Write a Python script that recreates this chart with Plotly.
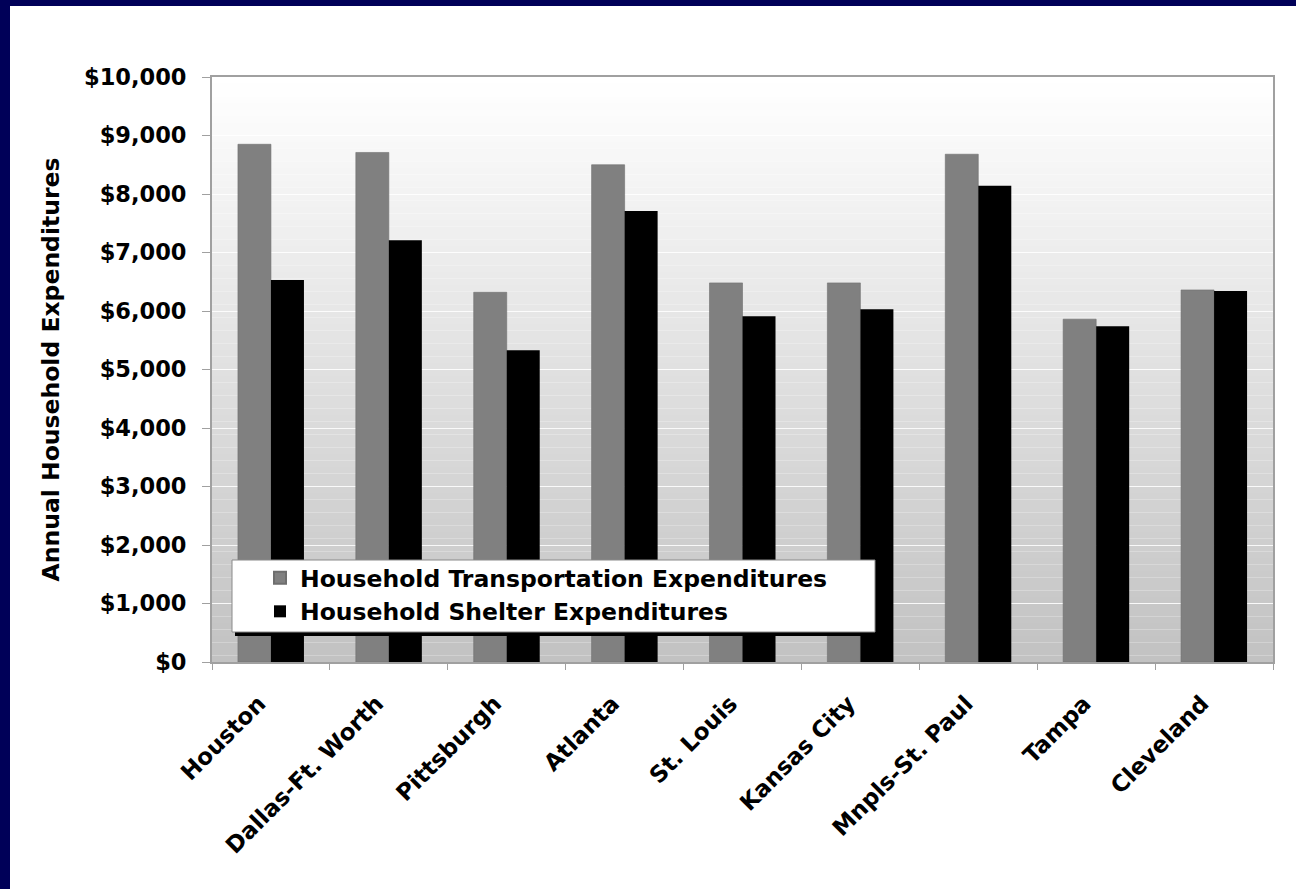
import plotly.graph_objects as go

# Metro areas and annual household spending (US$)
cities = ["Houston", "Dallas-Ft. Worth", "Pittsburgh", "Atlanta", "St. Louis",
          "Kansas City", "Mnpls-St. Paul", "Tampa", "Cleveland"]
transportation = [8850, 8710, 6320, 8500, 6480, 6480, 8680, 5860, 6360]
shelter = [6530, 7210, 5330, 7710, 5910, 6030, 8140, 5740, 6340]

y_ticks = list(range(0, 10001, 1000))
y_tick_text = [f"${v:,}" for v in y_ticks]

FONT = "Verdana, DejaVu Sans, sans-serif"

fig = go.Figure()
fig.add_trace(go.Bar(name="Household Transportation Expenditures", x=cities, y=transportation,
                     marker=dict(color="#808080", line=dict(width=0.6, color="#6e6e6e"))))
fig.add_trace(go.Bar(name="Household Shelter Expenditures", x=cities, y=shelter,
                     marker=dict(color="#000000", line=dict(width=0))))

shapes = []
# vertical gradient behind the plot area (white at top, light gray at bottom)
n = 90
for i in range(n):
    t = i / (n - 1)
    v = int(round(255 - (255 - 194) * t))
    shapes.append(dict(type="rect", xref="x domain", yref="y domain",
                       x0=0, x1=1, y0=1 - (i + 1) / n, y1=1 - i / n,
                       fillcolor=f"rgb({v},{v},{v})", line=dict(width=0), layer="below"))

W, H = 1296, 889
L, R, T, B = 212, 23, 77, 227
pw, ph = W - L - R, H - T - B


def px_x(x):
    return (x - L) / pw


def px_y(y):
    return (H - B - y) / ph


# navy frame strips along the top and left edges of the slide
shapes.append(dict(type="rect", xref="paper", yref="paper",
                   x0=px_x(0), x1=px_x(W), y0=px_y(6), y1=px_y(0),
                   fillcolor="#000058", line=dict(width=0), layer="above"))
shapes.append(dict(type="rect", xref="paper", yref="paper",
                   x0=px_x(0), x1=px_x(10), y0=px_y(H), y1=px_y(0),
                   fillcolor="#000058", line=dict(width=0), layer="above"))

# legend panel with a drop shadow
lx0, lx1, ly0, ly1 = 232, 875, 560, 632
shapes.append(dict(type="rect", xref="paper", yref="paper",
                   x0=px_x(lx0 + 3), x1=px_x(lx1 + 3), y0=px_y(ly1 + 4), y1=px_y(ly0 + 4),
                   fillcolor="#000000", line=dict(width=0), layer="above"))
shapes.append(dict(type="rect", xref="paper", yref="paper",
                   x0=px_x(lx0), x1=px_x(lx1), y0=px_y(ly1), y1=px_y(ly0),
                   fillcolor="#ffffff", line=dict(width=1, color="#8a8a8a"), layer="above"))

fig.update_layout(
    width=W, height=H,
    margin=dict(l=L, r=R, t=T, b=B, pad=0),
    paper_bgcolor="#ffffff",
    plot_bgcolor="#ffffff",
    barmode="group",
    bargap=0.44,
    bargroupgap=0,
    shapes=shapes,
    font=dict(family=FONT, color="#000000"),
    showlegend=True,
    legend=dict(x=px_x(260), y=px_y(556), xanchor="left", yanchor="top",
                bgcolor="rgba(0,0,0,0)", borderwidth=0,
                font=dict(family=FONT, size=23.5, color="#000000", weight="bold"),
                tracegroupgap=0, itemsizing="constant"),
)

fig.update_xaxes(
    type="category",
    tickangle=-45,
    tickson="boundaries",
    ticks="outside", ticklen=6, tickcolor="#a0a0a0",
    ticklabelstandoff=17,
    ticklabelshift=-12,
    showline=True, linecolor="#a0a0a0", linewidth=2, mirror=True,
    showgrid=False,
    tickfont=dict(family=FONT, size=23, color="#000000", weight="bold"),
)

fig.update_yaxes(
    range=[0, 10000],
    tickmode="array",
    tickvals=y_ticks,
    ticktext=y_tick_text,
    ticks="outside", ticklen=8, tickcolor="#a0a0a0",
    ticklabelstandoff=11,
    showline=True, linecolor="#a0a0a0", linewidth=2, mirror=True,
    showgrid=True, gridcolor="rgba(255,255,255,0.85)", gridwidth=1,
    zeroline=False,
    tickfont=dict(family=FONT, size=22.5, color="#000000", weight="bold"),
    title=dict(text="Annual Household Expenditures", standoff=18,
               font=dict(family=FONT, size=23.5, color="#000000", weight="bold")),
)

fig.write_html("out.html")
